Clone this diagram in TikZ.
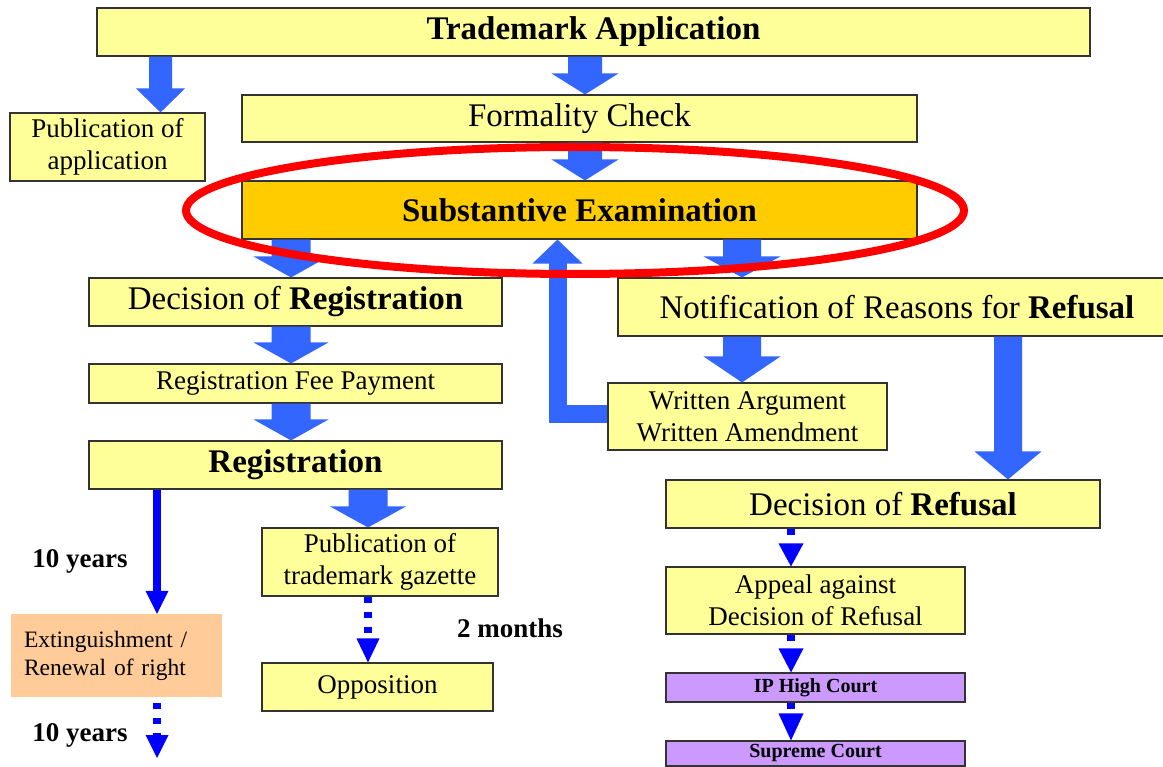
\documentclass[tikz,border=0pt]{standalone}
\usepackage{fontspec}
\setmainfont{Liberation Serif}
\usetikzlibrary{calc}
\definecolor{yfill}{HTML}{FFFF99}
\definecolor{subfill}{HTML}{FFCC00}
\definecolor{peach}{HTML}{FFCC99}
\definecolor{purp}{HTML}{CC99FF}
\definecolor{blkcol}{HTML}{3366FF}
\definecolor{thincol}{HTML}{0000FF}
\newcommand{\szbig}{\fontsize{33}{38}\selectfont}
\newcommand{\szmid}{\fontsize{27}{32}\selectfont}
\newcommand{\szext}{\fontsize{23.5}{28}\selectfont}
\newcommand{\szcourt}{\fontsize{20}{24}\selectfont\bfseries}
\newcommand{\blockarr}[5]{%
  \coordinate (bS) at (#1); \coordinate (bE) at (#2);
  \fill[blkcol] ($(bS)+(-#3,0)$) -- ($(bE)+(-#3,-#5)$) -- ($(bE)+(-#4,-#5)$) -- (bE)
    -- ($(bE)+(#4,-#5)$) -- ($(bE)+(#3,-#5)$) -- ($(bS)+(#3,0)$) -- cycle;}
\newcommand{\thinarr}[6]{%
  \coordinate (tS) at (#2); \coordinate (tE) at (#3);
  \draw[thincol, line width=#4pt, #1] (tS) -- ($(tE)+(0,{-#6+0.5})$);
  \fill[thincol] ($(tE)+(-#5,-#6)$) -- (tE) -- ($(tE)+(#5,-#6)$) -- cycle;}
\tikzset{
  box/.style={draw=black!80, line width=1.1pt, fill=yfill, inner sep=0pt, align=center},
  lbl/.style={inner sep=0pt, font=\szmid\bfseries},
  dotdash/.style={dash pattern=on 6pt off 9pt},
}
\begin{document}
\begin{tikzpicture}[x=1pt,y=-1pt]
\useasboundingbox (0,0) rectangle (1163,767);
\fill[white] (0,0) rectangle (1163,767);
% columns
\coordinate (cA) at (160.5,0);
\coordinate (cB) at (585,0);
\coordinate (cC) at (291,0);
\coordinate (cD) at (368,0);
\coordinate (cE) at (157,0);
\coordinate (cF) at (742,0);
\coordinate (cG) at (1008,0);
\coordinate (cH) at (791,0);
\coordinate (cI) at (557.5,0);
\coordinate (ry) at (0,414);
\coordinate (extEnd) at (157,758);
% boxes
\node[box, minimum width=993pt, minimum height=48pt, font=\szbig\bfseries] (ta) at (593.5,32) {Trademark Application};
\node[box, minimum width=195pt, minimum height=68pt, font=\szmid] (pubapp) at (107.5,147) {Publication of\\application};
\node[box, minimum width=675pt, minimum height=47pt, font=\szbig] (form) at (579.5,118.5) {Formality Check};
\node[box, fill=subfill, minimum width=675pt, minimum height=58pt, font=\szbig\bfseries] (subst) at (579.5,210) {Substantive Examination};
\node[box, minimum width=413pt, minimum height=48pt, font=\szbig] (dreg) at (295.5,302) {Decision of \textbf{Registration}};
\node[box, minimum width=413pt, minimum height=39pt, font=\szmid] (fee) at (295.5,383.5) {Registration Fee Payment};
\node[box, minimum width=413pt, minimum height=48pt, font=\szbig\bfseries] (reg) at (295.5,465) {Registration};
\node[box, minimum width=236pt, minimum height=68pt, font=\szmid] (gaz) at (380,562) {Publication of\\trademark gazette};
\node[box, minimum width=231pt, minimum height=48pt, font=\szmid] (opp) at (377.5,687) {Opposition};
\node[fill=peach, minimum width=211pt, minimum height=83pt, inner xsep=13pt, inner ysep=0pt, text width=185pt, align=left, font=\szext] (ext) at (116.5,655.5) {Extinguishment /\\Renewal of right};
\node[box, minimum width=558pt, minimum height=58pt, font=\szbig] (notif) at (897,307) {Notification of Reasons for \textbf{Refusal}};
\node[box, minimum width=279pt, minimum height=67pt, font=\szmid] (writ) at (747.5,416.5) {Written Argument\\Written Amendment};
\node[box, minimum width=434pt, minimum height=48pt, font=\szbig] (dref) at (883,504) {Decision of \textbf{Refusal}};
\node[box, minimum width=299pt, minimum height=67pt, font=\szmid] (appeal) at (815.5,600.5) {Appeal against\\Decision of Refusal};
\node[box, fill=purp, minimum width=299pt, minimum height=29pt, font=\szcourt] (ip) at (815.5,687.5) {IP High Court};
\node[box, fill=purp, minimum width=299pt, minimum height=25pt, font=\szcourt] (sup) at (815.5,753.5) {Supreme Court};
% labels
\node[lbl] (y1) at (80,561) {10 years};
\node[lbl] (y2) at (80,735) {10 years};
\node[lbl] (m2) at (510,628) {2 months};
% block arrows
\blockarr{ta.south -| cA}{pubapp.north -| cA}{11.5}{24.5}{24}
\blockarr{ta.south -| cB}{form.north -| cB}{17}{33.5}{21}
\blockarr{form.south -| cB}{subst.north -| cB}{17}{33.5}{21}
\blockarr{subst.south -| cC}{dreg.north -| cC}{19.5}{37.5}{21}
\blockarr{dreg.south -| cC}{fee.north -| cC}{19.5}{37.5}{21}
\blockarr{fee.south -| cC}{reg.north -| cC}{19.5}{37.5}{21}
\blockarr{reg.south -| cD}{gaz.north -| cD}{19.5}{38}{21}
\blockarr{subst.south -| cF}{notif.north -| cF}{19}{38.5}{21}
\blockarr{notif.south -| cF}{writ.north -| cF}{19}{38.5}{26}
\blockarr{notif.south -| cG}{dref.north -| cG}{14}{33.5}{28}
% return arrow
\draw[blkcol, line width=18pt, line join=miter] (writ.west |- ry) -| ($(cI |- subst.south)+(0,23.5)$);
\fill[blkcol] ($(cI |- subst.south)+(-25,24)$) -- (cI |- subst.south) -- ($(cI |- subst.south)+(25,24)$) -- cycle;
% thin arrows
\thinarr{}{reg.south -| cE}{ext.north -| cE}{8}{11.5}{23}
\thinarr{dotdash, dash phase=9pt}{ext.south -| cE}{extEnd}{8}{11.5}{23}
\thinarr{dotdash}{gaz.south -| cD}{opp.north -| cD}{8}{11.5}{24}
\thinarr{dotdash}{dref.south -| cH}{appeal.north -| cH}{8}{12.5}{23}
\thinarr{dotdash}{appeal.south -| cH}{ip.north -| cH}{8}{12.5}{24}
\thinarr{dotdash}{ip.south -| cH}{sup.north -| cH}{8}{12.5}{27}
% highlight
\draw[red, line width=8pt] (575,210.5) ellipse [x radius=389pt, y radius=63.5pt];
\end{tikzpicture}
\end{document}
